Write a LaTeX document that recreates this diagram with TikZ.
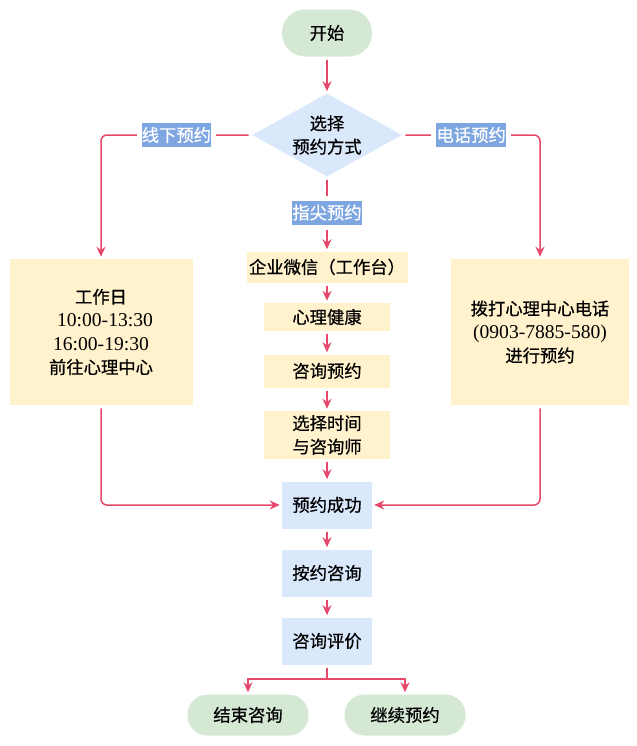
\documentclass[tikz,border=0pt]{standalone}
\usepackage{fontspec}
\setmainfont{Noto Sans CJK SC}[FakeBold=0.6]
\newfontfamily\numfont[Scale=1.13]{Liberation Serif}
\usetikzlibrary{arrows.meta,shapes.geometric}
\newdimen\pxdim
\pxdim=0.75pt
\definecolor{flowred}{HTML}{E5486B}
\definecolor{startgreen}{HTML}{D5E8D4}
\definecolor{stepblue}{HTML}{DAE8FC}
\definecolor{noteyellow}{HTML}{FFF2CC}
\definecolor{labelblue}{HTML}{7EA6E0}
\tikzstyle{flow}=[
  color=flowred,
  draw=flowred,
  line width=1.5\pxdim,
  rounded corners=6\pxdim,
  shorten >=2\pxdim,
  shorten <=3\pxdim,
]
\tikzstyle{flowlabel}=[
  sharp corners,
  fill=labelblue,
  text=white,
  inner sep=0pt,
  minimum width=69\pxdim,
  minimum height=24\pxdim,
  preaction={draw=white, line width=10\pxdim},
]
\tikzstyle{terminal}=[
  rectangle,
  fill=startgreen,
  inner sep=0pt,
]
\tikzstyle{choice}=[
  diamond,
  aspect=1.8,
  fill=stepblue,
  inner sep=0pt,
  align=center,
  minimum width=150\pxdim,
  minimum height=83\pxdim,
]
\tikzstyle{note}=[
  rectangle,
  fill=noteyellow,
  inner sep=0pt,
  align=center,
]
\tikzstyle{stepbox}=[
  rectangle,
  fill=stepblue,
  inner sep=0pt,
  minimum width=90\pxdim,
  minimum height=47\pxdim,
]
\tikzset{
  x=0.75pt,
  y=-0.75pt,
  >={Stealth[length=7.5pt,width=6.75pt]},
  font=\fontsize{13pt}{17.6pt}\selectfont,
  text=black,
}

\begin{document}
\begin{tikzpicture}
  \useasboundingbox (0,0) rectangle (636,746);
  % top of the chart
  \node [terminal, minimum width=90\pxdim, minimum height=47\pxdim,
  rounded corners=23\pxdim] (start) at (327,33) {开始};
  \node [choice] (choose) at (327,135) {选择\\预约方式};
  % three ways to book
  \node [note, minimum width=183\pxdim, minimum height=146\pxdim]
  (offline) at (101,332)
  {工作日\\\hspace*{8\pxdim}{\numfont 10:00-13:30}\\{\numfont 16:00-19:30}\\前往心理中心};
  \node [note, minimum width=178\pxdim, minimum height=146\pxdim]
  (phone) at (540,332)
  {拨打心理中心电话\\{\numfont (0903-7885-580)}\\进行预约};
  \node [note, minimum width=161\pxdim, minimum height=31\pxdim]
  (wechat) at (327,267) {企业微信（工作台）};
  \node [note, minimum width=126\pxdim, minimum height=28\pxdim]
  (health) at (327,317) {心理健康};
  \node [note, minimum width=126\pxdim, minimum height=33\pxdim]
  (consult) at (327,371) {咨询预约};
  \node [note, minimum width=126\pxdim, minimum height=48\pxdim]
  (pick) at (327,435) {选择时间\\与咨询师};
  % after booking
  \node [stepbox] (success) at (327,505) {预约成功};
  \node [stepbox] (visit) at (327,573) {按约咨询};
  \node [stepbox] (review) at (327,641) {咨询评价};
  \node [terminal, minimum width=121\pxdim, minimum height=41\pxdim,
  rounded corners=20\pxdim] (finish) at (248,715) {结束咨询};
  \node [terminal, minimum width=121\pxdim, minimum height=41\pxdim,
  rounded corners=20\pxdim] (again) at (405,715) {继续预约};
  \coordinate (fork) at (327,679);

  \draw [->,flow] (start) -- (choose);
  \draw [->,flow] (choose.west)
  -| node [flowlabel, pos=.25] {线下预约} (offline.north);
  \draw [->,flow] (choose.east)
  -| node [flowlabel, pos=.25] {电话预约} (phone.north);
  \draw [->,flow] (choose)
  -- node [flowlabel, pos=.48] {指尖预约} (wechat);
  \draw [->,flow] (wechat) -- (health);
  \draw [->,flow] (health) -- (consult);
  \draw [->,flow] (consult) -- (pick);
  \draw [->,flow] (pick) -- (success);
  \draw [->,flow] (offline.south) |- (success.west);
  \draw [->,flow] (phone.south) |- (success.east);
  \draw [->,flow] (success) -- (visit);
  \draw [->,flow] (visit) -- (review);
  \draw [flow, sharp corners, shorten >=0pt] (review) -- (fork);
  \draw [->,flow, sharp corners, shorten <=0pt] (fork) -| (finish.north);
  \draw [->,flow, sharp corners, shorten <=0pt] (fork) -| (again.north);
\end{tikzpicture}
\end{document}
